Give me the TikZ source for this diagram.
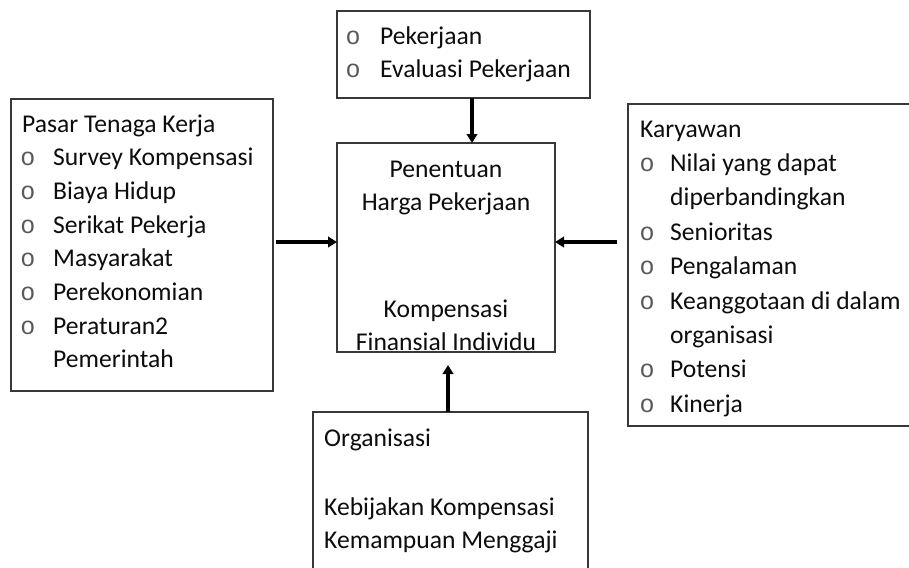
\documentclass[tikz,border=0pt]{standalone}
\usepackage{fontspec}
\setmainfont{Carlito}
\newfontfamily\bulletfont{Liberation Mono}
\usetikzlibrary{arrows.meta}
\begin{document}
\begin{tikzpicture}[x=1pt,y=-1pt,
  box/.style={draw=black!78, line width=1.2pt, fill=white, inner sep=0pt, outer sep=0pt},
  txt/.style={anchor=base west, inner sep=0pt, text=black!95, font=\fontsize{25.6}{30}\selectfont},
  ctxt/.style={anchor=base, inner sep=0pt, text=black!95, font=\fontsize{25.6}{30}\selectfont},
  bul/.style={anchor=base, inner sep=0pt, text=black!65, font=\bulletfont\fontsize{25}{30}\selectfont},
  arr/.style={line width=3.2pt, -{Triangle[length=9pt,width=10.5pt]}}]
\useasboundingbox (0,0) rectangle (909,567);
\clip (0,0) rectangle (909,567);
\fill[white] (0,0) rectangle (909,567);

% boxes
\node[box, minimum width=253pt, minimum height=87pt]  (job)    at (463.5,54.5) {};
\node[box, minimum width=218pt, minimum height=209pt] (price)  at (446,247.5)  {};
\node[box, minimum width=262pt, minimum height=292pt] (market) at (142,245)    {};
\node[box, minimum width=297pt, minimum height=322pt] (staff)  at (776.5,265)  {};
\node[box, minimum width=275pt, minimum height=178pt] (org)    at (450.5,501)  {};

% top box: job factors
\foreach \t [count=\i from 0] in {Pekerjaan, Evaluasi Pekerjaan}{
  \node[bul] (jb\i) at (353,45+33*\i) {o};
  \node[txt] (jt\i) at (380,45+33*\i) {\t};
}

% left box: labour market
\node[txt] (mh) at (22,132) {Pasar Tenaga Kerja};
\foreach \t [count=\i] in {Survey Kompensasi, Biaya Hidup, Serikat Pekerja, Masyarakat, Perekonomian, Peraturan2}{
  \node[bul] (mb\i) at (28,132+33.7*\i) {o};
  \node[txt] (mt\i) at (53,132+33.7*\i) {\t};
}
\node[txt] (mt7) at (53,132+33.7*7) {Pemerintah};

% right box: employee
\node[txt] (sh) at (640,137) {Karyawan};
\foreach \t/\r in {Nilai yang dapat/1, Senioritas/3, Pengalaman/4, Keanggotaan di dalam/5, Potensi/7, Kinerja/8}{
  \node[bul] (sb\r) at (647,137+34.4*\r) {o};
  \node[txt] (st\r) at (670,137+34.4*\r) {\t};
}
\node[txt] (st2) at (670,137+34.4*2) {diperbandingkan};
\node[txt] (st6) at (670,137+34.4*6) {organisasi};

% centre box
\node[ctxt] (c1) at (446,177) {Penentuan};
\node[ctxt] (c2) at (446,210) {Harga Pekerjaan};
\node[ctxt] (c3) at (446,317) {Kompensasi};
\node[ctxt] (c4) at (446,350) {Finansial Individu};

% bottom box: organisation
\node[txt] (o1) at (324,446) {Organisasi};
\node[txt] (o2) at (324,515) {Kebijakan Kompensasi};
\node[txt] (o3) at (324,548) {Kemampuan Menggaji};

% connectors
\coordinate (tx) at (472,0);
\coordinate (bx) at (448,0);
\coordinate (ay) at (0,242);
\draw[arr] (job.south -| tx) -- (price.north -| tx);
\draw[arr] ([xshift=3pt]market.east |- ay) -- (price.west |- ay);
\draw[arr] ([xshift=-11pt]staff.west |- ay) -- (price.east |- ay);
\draw[arr] (org.north -| bx) -- ([yshift=-13pt]price.south -| bx);
\end{tikzpicture}
\end{document}
